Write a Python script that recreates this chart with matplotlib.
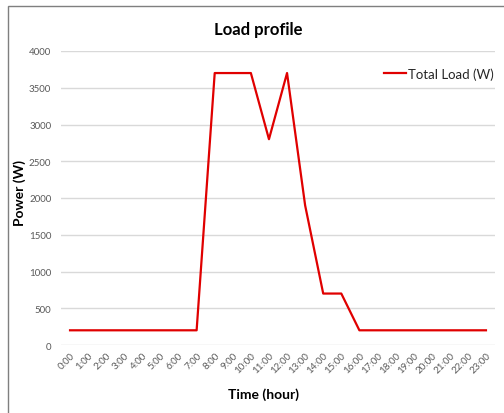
import matplotlib.pyplot as plt
from matplotlib.patches import Rectangle

# Dados do perfil de carga (hora -> potencia em W)
hours = [f"{h}:00" for h in range(24)]
load_w = [200, 200, 200, 200, 200, 200, 200, 200,
          3700, 3700, 3700, 2800, 3700, 1900, 700, 700,
          200, 200, 200, 200, 200, 200, 200, 200]
y_ticks = [0, 500, 1000, 1500, 2000, 2500, 3000, 3500, 4000]

plt.rcParams['font.family'] = ['Lato', 'DejaVu Sans']

W, H = 504, 414
fig = plt.figure(figsize=(W / 100, H / 100), dpi=100)

# Moldura cinza do grafico (estilo Excel), so borda esquerda e superior visiveis
fig.patches.append(Rectangle((8 / W, -0.05), 2.0, 1 - 7 / H + 0.05,
                             transform=fig.transFigure, fill=False,
                             edgecolor='#7f7f7f', linewidth=1.0))

ax = fig.add_axes([61 / W, 1 - 346 / H, (495 - 61) / W, (346 - 52) / H])
x = list(range(len(hours)))
ax.plot(x, load_w, color='#e00000', linewidth=1.6, label='Total Load (W)')

ax.set_xlim(-0.5, len(hours) - 0.5)
ax.set_ylim(0, 4000)
ax.set_yticks(y_ticks)
ax.set_yticklabels([str(v) for v in y_ticks])
ax.set_xticks(x)
ax.set_xticklabels(hours, rotation=45, ha='right', rotation_mode='anchor')
ax.tick_params(axis='both', length=0, labelsize=7, labelcolor='#595959')
ax.tick_params(axis='y', pad=7)
ax.tick_params(axis='x', pad=4)

ax.grid(axis='y', color='#d9d9d9', linewidth=1)
ax.set_axisbelow(True)
for side in ['top', 'right', 'left', 'bottom']:
    ax.spines[side].set_visible(False)

fig.text(258 / W, 1 - 30 / H, 'Load profile', ha='center', va='center',
         fontsize=12, fontweight='bold')
fig.text(20 / W, 1 - 193 / H, 'Power (W)', ha='center', va='center',
         rotation=90, fontsize=10, fontweight='bold')
fig.text(263 / W, 1 - 395 / H, 'Time (hour)', ha='center', va='center',
         fontsize=10, fontweight='bold')

ax.legend(loc='upper right', bbox_to_anchor=(1.025, 0.985), frameon=False,
          fontsize=9.5, handlelength=1.6, handletextpad=0.2,
          labelcolor='#262626')

fig.savefig('out.png', dpi=100)
